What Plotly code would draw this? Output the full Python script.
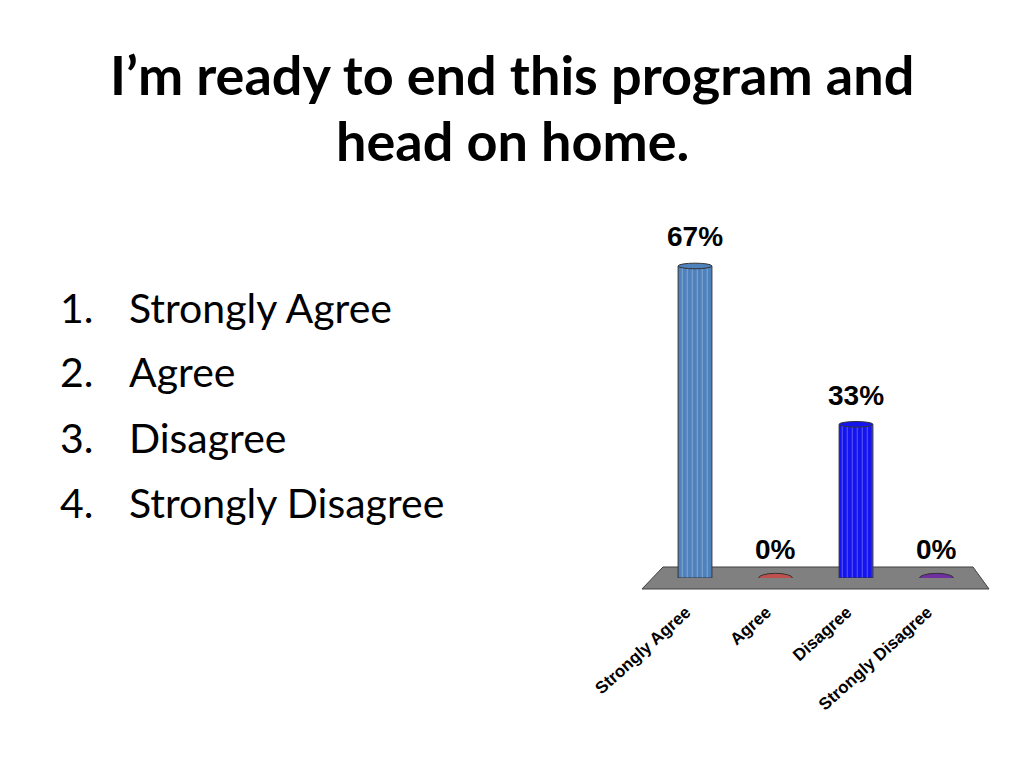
import plotly.graph_objects as go

# ---- data ----
categories = ["Strongly Agree", "Agree", "Disagree", "Strongly Disagree"]
values = [67, 0, 33, 0]
value_labels = ["67%", "0%", "33%", "0%"]
bar_colors = ["#4F81BD", "#C0504D", "#1414F0", "#7030A0"]
title_lines = ["I\u2019m ready to end this program and", "head on home."]
list_numbers = ["1.", "2.", "3.", "4."]
list_items = ["Strongly Agree", "Agree", "Disagree", "Strongly Disagree"]

W, H = 1024, 768
OFF = 8  # page body margin offset
# plot area in page pixels
x_left, x_right = 654.75, 976.75
y_zero, y_top = 578, 252
y_max = 70

fig = go.Figure()

def px(x):
    return (x - OFF) / W
def py(y):
    return 1 - (y - OFF) / H

# floor (decorative parallelogram, paper coords)
floor = [(663, 567), (973, 567), (989, 589), (642, 589)]
path = "M " + " L ".join(f"{px(a):.5f},{py(b):.5f}" for a, b in floor) + " Z"
fig.add_shape(type="path", path=path, xref="paper", yref="paper",
              fillcolor="#808080", line=dict(color="#404040", width=1), layer="below")

# bars
fig.add_trace(go.Bar(
    x=categories, y=values, width=0.42,
    marker=dict(color=bar_colors, line=dict(color="#333333", width=1),
                pattern=dict(shape="|", fgcolor="rgba(255,255,255,0.22)", size=5, solidity=0.12)),
    hoverinfo="skip", showlegend=False,
))

# ellipses at bar tops and zero-bar discs
for i, (c, v, col) in enumerate(zip(categories, values, bar_colors)):
    if v == 0:
        fig.add_shape(type="circle", xref="x", yref="y",
                      x0=i - 0.21, x1=i + 0.21, y0=v - 1.0, y1=v + 1.0,
                      fillcolor=col, line=dict(color="#333333", width=1), layer="above")
    else:
        fig.add_shape(type="circle", xref="x", yref="y",
                      x0=i - 0.21, x1=i + 0.21, y0=v - 0.6, y1=v + 0.6,
                      fillcolor=col, line=dict(color="#333333", width=1), layer="above")

# value labels
for c, v, t in zip(categories, values, value_labels):
    fig.add_annotation(x=c, y=v, text=t, showarrow=False, yshift=29,
                       xanchor="center", yanchor="middle",
                       font=dict(family="Liberation Sans", size=28, color="black", weight="bold"))

# title
for k, line in enumerate(title_lines):
    fig.add_annotation(x=px(512), y=py(74 + k * 66), xref="paper", yref="paper",
                       text=line, showarrow=False, xanchor="center", yanchor="middle",
                       font=dict(family="Lato", size=54, color="black", weight="bold"))

# numbered list
for k, (n, item) in enumerate(zip(list_numbers, list_items)):
    yy = py(307 + k * 65)
    fig.add_annotation(x=px(58), y=yy, xref="paper", yref="paper", text=n,
                       showarrow=False, xanchor="left", yanchor="middle",
                       font=dict(family="Lato", size=41, color="black"))
    fig.add_annotation(x=px(127), y=yy, xref="paper", yref="paper", text=item,
                       showarrow=False, xanchor="left", yanchor="middle",
                       font=dict(family="Lato", size=41, color="black"))

fig.update_layout(
    width=W, height=H,
    margin=dict(l=0, r=0, t=0, b=0, autoexpand=False),
    paper_bgcolor="white", plot_bgcolor="rgba(0,0,0,0)",
    xaxis=dict(domain=[px(x_left), px(x_right)], range=[-0.5, 3.5], automargin=False,
               showgrid=False, zeroline=False, showline=False, ticks="",
               tickangle=-42, ticklabelstandoff=20, ticklabelshift=-9,
               tickfont=dict(family="Liberation Sans", size=17, color="black", weight="bold")),
    yaxis=dict(domain=[py(y_zero), py(y_top)], range=[0, y_max], visible=False, automargin=False),
)

fig.write_html("out.html")
